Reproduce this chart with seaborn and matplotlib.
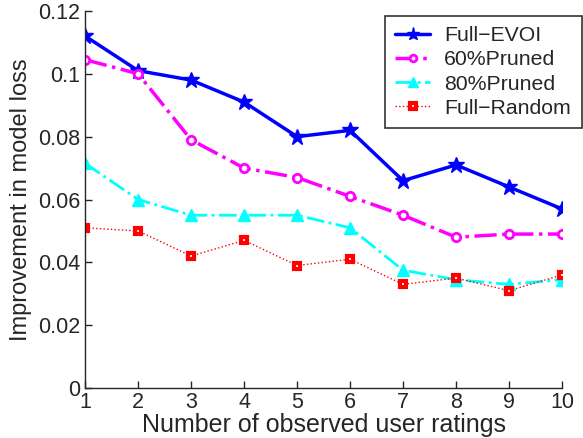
import seaborn as sns
import matplotlib.pyplot as plt
import pandas as pd

# observed ratings on the x axis
ratings = [1, 2, 3, 4, 5, 6, 7, 8, 9, 10]

# improvement in model loss
full_evoi = [0.112, 0.101, 0.098, 0.091, 0.080, 0.082, 0.066, 0.071, 0.064, 0.057]
pruned_60 = [0.1045, 0.100, 0.079, 0.070, 0.067, 0.061, 0.055, 0.048, 0.049, 0.049]
pruned_80 = [0.0715, 0.060, 0.055, 0.055, 0.055, 0.051, 0.0375, 0.0345, 0.033, 0.0345]
full_random = [0.051, 0.050, 0.042, 0.047, 0.039, 0.041, 0.033, 0.035, 0.031, 0.036]

labels = ['Full\u2212EVOI', '60%Pruned', '80%Pruned', 'Full\u2212Random']
series = [full_evoi, pruned_60, pruned_80, full_random]

frames = []
for name, vals in zip(labels, series):
    frames.append(pd.DataFrame({'x': ratings, 'y': vals, 'tag': name}))
data = pd.concat(frames, ignore_index=True)

sns.set_style("ticks")
plt.rcParams['font.family'] = ['Liberation Sans', 'DejaVu Sans']

fig = plt.figure(figsize=(5.83, 4.38), dpi=100)
ax = fig.add_axes([0.146, 0.114, 0.818, 0.861])

styles = {
    labels[0]: dict(color='#0000ff', marker='*', ls='-', lw=2.5, ms=12, mfc='#0000ff', mew=1),
    labels[1]: dict(color='#ff00ff', marker='o', ls='-.', lw=2.5, ms=6, mfc='white', mew=2),
    labels[2]: dict(color='#00ffff', marker='^', ls='-.', lw=2, ms=9, mfc='#00ffff', mew=1),
    labels[3]: dict(color='#ff0000', marker='s', ls=':', lw=1, ms=5, mfc='white', mew=3),
}

for name in labels:
    st = styles[name]
    sns.lineplot(x='x', y='y', data=data[data.tag == name], ax=ax,
                 color=st['color'], marker=st['marker'], linestyle=st['ls'],
                 linewidth=st['lw'], markersize=st['ms'],
                 markerfacecolor=st['mfc'], markeredgecolor=st['color'],
                 markeredgewidth=st['mew'], label=name, estimator=None)

sns.despine(ax=ax)
ax.set_xlim(1, 10)
ax.set_ylim(0, 0.12)
ax.set_xticks(ratings)
ax.set_yticks([0, 0.02, 0.04, 0.06, 0.08, 0.1, 0.12])
ax.set_yticklabels(['0', '0.02', '0.04', '0.06', '0.08', '0.1', '0.12'])
ax.tick_params(direction='in', labelsize=15.5, length=5, width=1, pad=3.5)
ax.tick_params(axis='x', pad=3)
ax.spines['left'].set_linewidth(1)
ax.spines['bottom'].set_linewidth(1)
ax.set_xlabel("Number of observed user ratings", fontsize=18, labelpad=0)
ax.set_ylabel("Improvement in model loss", fontsize=17, labelpad=4)

leg = ax.legend(loc='upper left', bbox_to_anchor=(0.660, 0.964),
                bbox_transform=fig.transFigure, fontsize=15.3,
                frameon=True, fancybox=False, edgecolor='black',
                handlelength=1.65, borderpad=0.5, labelspacing=0.24,
                handletextpad=0.65, borderaxespad=0.0, markerscale=0.8)
leg.get_frame().set_linewidth(1.2)

plt.savefig('out.png', dpi=100)
